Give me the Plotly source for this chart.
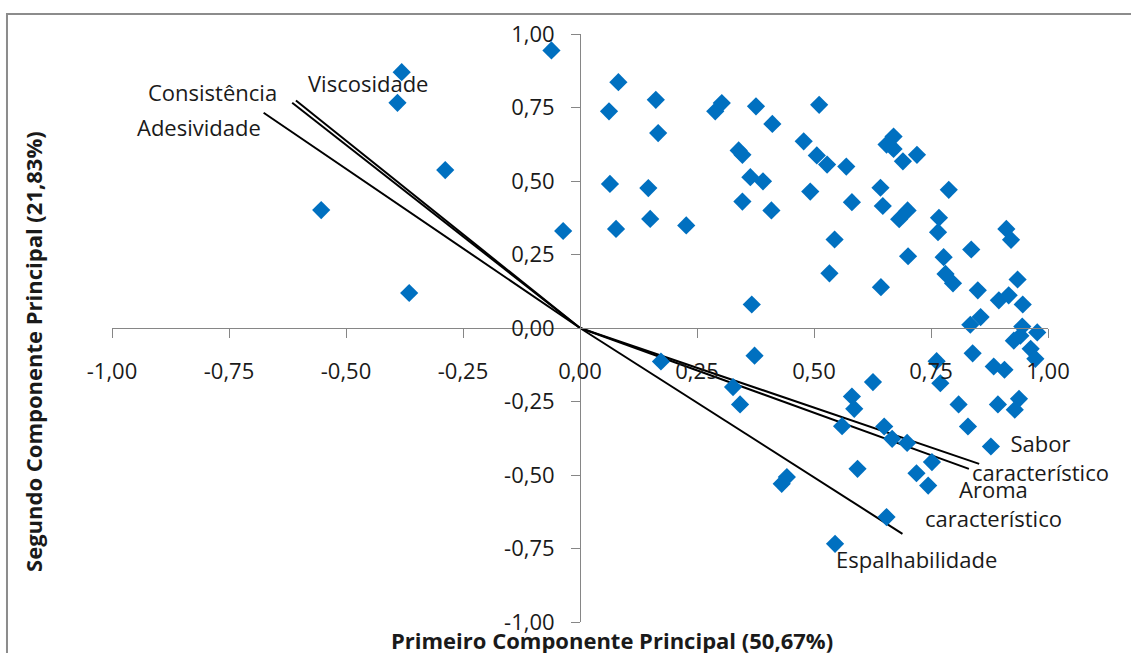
import plotly.graph_objects as go

# ---- data: PCA scores (blue diamonds) ----
score_x = [-0.061, -0.381, -0.390, -0.288, -0.553, -0.365, -0.036,
           0.082, 0.062, 0.162, 0.167, 0.289, 0.303, 0.376, 0.411, 0.339, 0.347,
           0.364, 0.391, 0.064, 0.146, 0.347, 0.409, 0.511, 0.478, 0.506, 0.528,
           0.569, 0.670, 0.655, 0.670, 0.690, 0.720, 0.492, 0.581, 0.642, 0.788,
           0.647, 0.700, 0.682, 0.767, 0.765, 0.911, 0.921, 0.544, 0.701, 0.836,
           0.777, 0.533, 0.781, 0.797, 0.643, 0.935, 0.850, 0.895, 0.916, 0.946,
           0.834, 0.856, 0.945, 0.977, 0.077, 0.150, 0.227, 0.367,
           0.173, 0.373, 0.327, 0.342, 0.431, 0.442, 0.927, 0.941, 0.839, 0.963,
           0.973, 0.762, 0.884, 0.907, 0.770, 0.626, 0.809, 0.893, 0.938, 0.929,
           0.581, 0.586, 0.560, 0.650, 0.667, 0.699, 0.829, 0.878, 0.752, 0.719,
           0.744, 0.593, 0.655, 0.545]
score_y = [0.944, 0.870, 0.766, 0.537, 0.401, 0.119, 0.330,
           0.836, 0.737, 0.776, 0.663, 0.737, 0.765, 0.754, 0.694, 0.604, 0.589,
           0.513, 0.499, 0.490, 0.476, 0.430, 0.400, 0.759, 0.635, 0.587, 0.556,
           0.549, 0.651, 0.624, 0.609, 0.567, 0.589, 0.464, 0.428, 0.477, 0.470,
           0.415, 0.400, 0.370, 0.375, 0.326, 0.337, 0.300, 0.301, 0.244, 0.267,
           0.241, 0.186, 0.184, 0.152, 0.139, 0.165, 0.128, 0.094, 0.111, 0.080,
           0.011, 0.037, 0.005, -0.015, 0.337, 0.371, 0.349, 0.080,
           -0.114, -0.094, -0.201, -0.260, -0.530, -0.507, -0.043, -0.026, -0.086, -0.071,
           -0.105, -0.113, -0.131, -0.142, -0.188, -0.184, -0.260, -0.260, -0.241, -0.278,
           -0.233, -0.275, -0.334, -0.335, -0.377, -0.391, -0.335, -0.403, -0.456, -0.494,
           -0.536, -0.479, -0.643, -0.734]

# ---- data: attribute loadings (lines from origin) ----
attr_names = ["Consistência", "Viscosidade", "Adesividade",
              "Sabor característico", "Aroma característico", "Espalhabilidade"]
attr_x = [-0.615, -0.607, -0.676, 0.853, 0.831, 0.689]
attr_y = [0.766, 0.774, 0.732, -0.462, -0.479, -0.700]

tick_vals = [-1.0, -0.75, -0.5, -0.25, 0.0, 0.25, 0.5, 0.75, 1.0]
tick_text = ["-1,00", "-0,75", "-0,50", "-0,25", "0,00", "0,25", "0,50", "0,75", "1,00"]

x_title = "Primeiro Componente Principal (50,67%)"
y_title = "Segundo Componente Principal (21,83%)"

FONT = "Open Sans"
TXT = "#1a1a1a"
AX = "#868686"

fig = go.Figure()

for name, lx, ly in zip(attr_names, attr_x, attr_y):
    fig.add_trace(go.Scatter(x=[0, lx], y=[0, ly], mode="lines",
                             line=dict(color="black", width=2),
                             showlegend=False, hoverinfo="skip", cliponaxis=False))

fig.add_trace(go.Scatter(x=score_x, y=score_y, mode="markers",
                         marker=dict(symbol="diamond", size=14, color="#0070C0",
                                     line=dict(width=0)),
                         showlegend=False, cliponaxis=False))

# label placements (data units) for the loading vectors
labels = [
    ("Consistência", -0.644, 0.802, "right"),
    ("Viscosidade", -0.586, 0.832, "left"),
    ("Adesividade", -0.677, 0.683, "right"),
    ("Sabor<br>característico", 0.984, -0.440, "center"),
    ("Aroma<br>característico", 0.883, -0.597, "center"),
    ("Espalhabilidade", 0.720, -0.785, "center"),
]
for txt, lx, ly, anc in labels:
    fig.add_annotation(x=lx, y=ly, xref="x", yref="y", text=txt, showarrow=False,
                       xanchor=anc, yanchor="middle", align="center",
                       font=dict(family=FONT, size=22, color=TXT))

fig.add_annotation(x=0.534, y=-0.031, xref="paper", yref="paper", text="<b>" + x_title + "</b>",
                   showarrow=False, xanchor="center", yanchor="middle",
                   font=dict(family=FONT, size=22, color=TXT))
fig.add_annotation(x=-0.085, y=0.46, xref="paper", yref="paper", text="<b>" + y_title + "</b>",
                   showarrow=False, xanchor="center", yanchor="middle", textangle=-90,
                   font=dict(family=FONT, size=22, color=TXT))

# chart-area border (extends past the right and bottom edges)
fig.add_shape(type="rect", xref="paper", yref="paper", x0=-0.1122, y0=-0.3, x1=1.3, y1=1.034,
              line=dict(color="#8c8c8c", width=2), fillcolor="rgba(0,0,0,0)", layer="below")

fig.update_layout(
    width=1131, height=653,
    margin=dict(l=112, r=83, t=34, b=31),
    paper_bgcolor="white", plot_bgcolor="white",
    xaxis=dict(range=[-1, 1], anchor="free", position=0.5, showline=True, linecolor=AX,
               linewidth=1, ticks="outside", ticklen=9, tickcolor=AX, tickwidth=1,
               tickvals=tick_vals, ticktext=tick_text, showgrid=False, zeroline=False,
               ticklabelstandoff=15, tickfont=dict(family=FONT, size=22, color=TXT)),
    yaxis=dict(range=[-1, 1], anchor="free", position=0.5, showline=True, linecolor=AX,
               linewidth=1, ticks="outside", ticklen=9, tickcolor=AX, tickwidth=1,
               tickvals=tick_vals, ticktext=tick_text, showgrid=False, zeroline=False,
               ticklabelstandoff=12, tickfont=dict(family=FONT, size=22, color=TXT)),
)

fig.write_html("out.html")
